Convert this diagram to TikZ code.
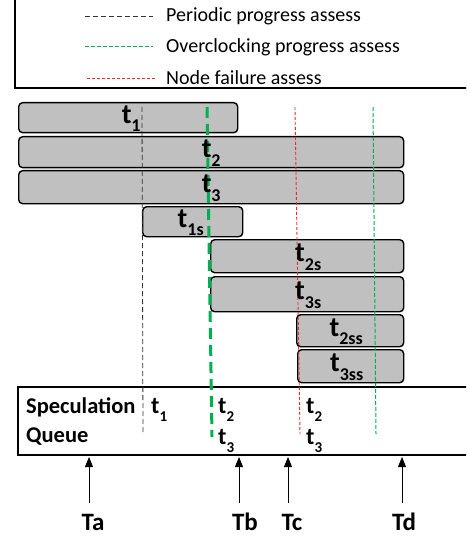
\documentclass[tikz,border=0pt]{standalone}
\usepackage{fontspec}
\setmainfont{Carlito}
\usetikzlibrary{arrows.meta}
\definecolor{boxgray}{RGB}{192,192,192}
\definecolor{mygreen}{RGB}{0,176,80}
\definecolor{myred}{RGB}{240,40,40}
\newcommand\boxlab[1]{\fontsize{28}{30}\selectfont\bfseries t\raisebox{-0.3em}{\fontsize{18}{19}\selectfont #1}}
\newcommand\queuelab[1]{\fontsize{24}{26}\selectfont\bfseries t\raisebox{-0.3em}{\fontsize{15}{16}\selectfont #1}}
\tikzset{
  taskbox/.style={draw=black, fill=boxgray, line width=1.4pt, rounded corners=4pt, anchor=north west, inner sep=0pt},
  frame/.style={draw=black, line width=1.5pt},
  legtext/.style={anchor=west, inner sep=0pt, font=\fontsize{20}{22}\selectfont},
  qtext/.style={anchor=west, inner sep=0pt, font=\fontsize{22.5}{24}\selectfont\bfseries},
  tlab/.style={inner sep=0pt, font=\fontsize{25}{27}\selectfont\bfseries},
  periodic/.style={black!80, line width=0.8pt, dash pattern=on 5pt off 3pt},
  overbig/.style={mygreen, line width=3pt, dash pattern=on 11pt off 6pt},
  overthin/.style={mygreen, line width=1pt, dash pattern=on 4pt off 2pt},
  failure/.style={myred, line width=0.9pt, dash pattern=on 3pt off 2pt},
  timearrow/.style={line width=0.8pt, -{Triangle[length=10pt,width=8pt]}}
}
\begin{document}
\begin{tikzpicture}[x=1pt,y=-1pt]
\useasboundingbox (0,0) rectangle (466,537);
\begin{scope}
\clip (0,0) rectangle (466,537);
% legend frame
\draw[frame] (15,-10) rectangle (480,88);
\coordinate (l1a) at (85,16); \coordinate (l1b) at (153,16);
\coordinate (l2a) at (85,47); \coordinate (l2b) at (153,47);
\coordinate (l3a) at (87,78); \coordinate (l3b) at (155,78);
\draw[periodic] (l1a) -- (l1b);
\draw[overthin] (l2a) -- (l2b);
\draw[failure] (l3a) -- (l3b);
\node[legtext] (lg1) at (166,16) {Periodic progress assess};
\node[legtext] (lg2) at (166,47) {Overclocking progress assess};
\node[legtext] (lg3) at (166,78) {Node failure assess};
% task boxes
\node[taskbox, minimum width=219pt, minimum height=30pt] (b1) at (18,102) {};
\node[taskbox, minimum width=385pt, minimum height=31pt] (b2) at (18,136) {};
\node[taskbox, minimum width=385pt, minimum height=33pt] (b3) at (18,170) {};
\node[taskbox, minimum width=100pt, minimum height=30pt] (b1s) at (142,206) {};
\node[taskbox, minimum width=193pt, minimum height=33pt] (b2s) at (210,239) {};
\node[taskbox, minimum width=193pt, minimum height=35pt] (b3s) at (210,276) {};
\node[taskbox, minimum width=107pt, minimum height=32pt] (b2ss) at (296,314) {};
\node[taskbox, minimum width=106pt, minimum height=33pt] (b3ss) at (297,349) {};
% queue frame
\draw[frame] (18,387) rectangle (480,455);
% assessment lines
\coordinate (pa) at (142,107); \coordinate (pb) at (143,434);
\coordinate (ga) at (207,107); \coordinate (gb) at (212,437);
\coordinate (ra) at (295,107); \coordinate (rb) at (300,434);
\coordinate (ha) at (373,107); \coordinate (hb) at (376,434);
\draw[periodic] (pa) -- (pb);
\draw[overbig] (ga) -- (gb);
\draw[failure] (ra) -- (rb);
\draw[overthin] (ha) -- (hb);
% box labels
\node[inner sep=0pt] (t1) at ([xshift=3pt,yshift=-1pt]b1.center) {\boxlab{1}};
\node[inner sep=0pt] (t2) at ([xshift=0pt,yshift=-1pt]b2.center) {\boxlab{2}};
\node[inner sep=0pt] (t3) at ([xshift=0pt,yshift=-1pt]b3.center) {\boxlab{3}};
\node[inner sep=0pt] (t1s) at ([xshift=-2pt,yshift=-1pt]b1s.center) {\boxlab{1s}};
\node[inner sep=0pt] (t2s) at ([xshift=1pt,yshift=-1pt]b2s.center) {\boxlab{2s}};
\node[inner sep=0pt] (t3s) at ([xshift=1pt,yshift=-1pt]b3s.center) {\boxlab{3s}};
\node[inner sep=0pt] (t2ss) at ([xshift=-4pt,yshift=-1pt]b2ss.center) {\boxlab{2ss}};
\node[inner sep=0pt] (t3ss) at ([xshift=-4pt,yshift=-1pt]b3ss.center) {\boxlab{3ss}};
% queue contents
\node[qtext] (spec) at (26,407) {Speculation};
\node[qtext] (queue) at (26,437) {Queue};
\node[anchor=west, inner sep=0pt] (q1) at (151,410) {\queuelab{1}};
\node[anchor=west, inner sep=0pt] (q2) at (218,410) {\queuelab{2}};
\node[anchor=west, inner sep=0pt] (q3) at (218,441) {\queuelab{3}};
\node[anchor=west, inner sep=0pt] (q4) at (306,410) {\queuelab{2}};
\node[anchor=west, inner sep=0pt] (q5) at (306,441) {\queuelab{3}};
% time markers
\coordinate (aa) at (89,457); \coordinate (ab) at (239,457);
\coordinate (ac) at (288,457); \coordinate (ad) at (402,457);
\coordinate (ba) at (89,503); \coordinate (bb) at (239,503);
\coordinate (bc) at (288,503); \coordinate (bd) at (402,503);
\draw[timearrow] (ba) -- (aa);
\draw[timearrow] (bb) -- (ab);
\draw[timearrow] (bc) -- (ac);
\draw[timearrow] (bd) -- (ad);
\node[tlab] (Ta) at (93,522) {Ta};
\node[tlab] (Tb) at (245,522) {Tb};
\node[tlab] (Tc) at (292,522) {Tc};
\node[tlab] (Td) at (404,522) {Td};
\end{scope}
\end{tikzpicture}
\end{document}
